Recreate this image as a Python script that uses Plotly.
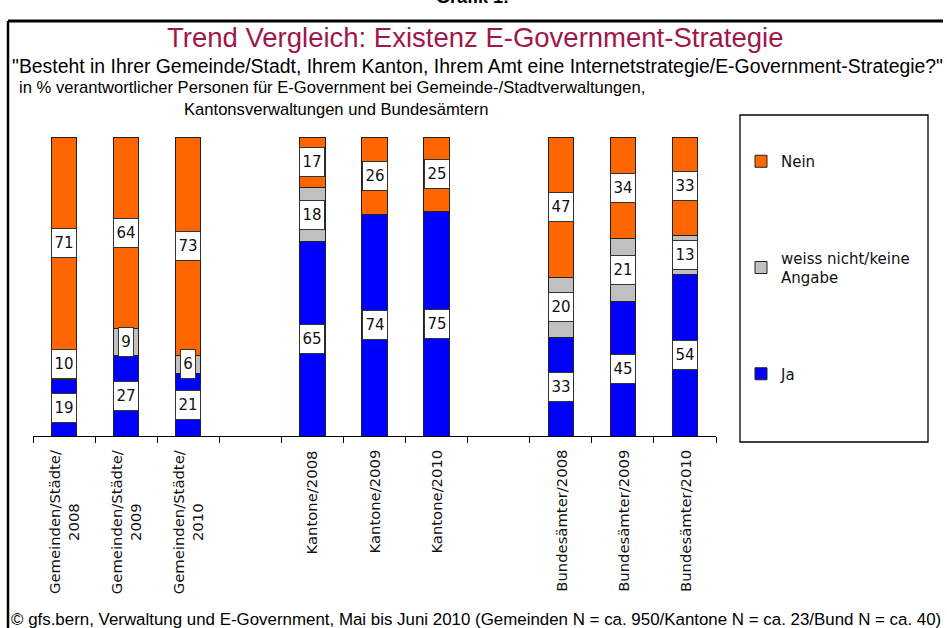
"""Stacked bar chart: trend comparison of e-government strategies."""

import plotly.graph_objects as go

categories = [
    "Gemeinden/Städte/<br>2008", "Gemeinden/Städte/<br>2009",
    "Gemeinden/Städte/<br>2010",
    "Kantone/2008", "Kantone/2009", "Kantone/2010",
    "Bundesämter/2008", "Bundesämter/2009", "Bundesämter/2010",
]
ja = [19, 27, 21, 65, 74, 75, 33, 45, 54]
weiss_nicht = [10, 9, 6, 18, 0, 0, 20, 21, 13]
nein = [71, 64, 73, 17, 26, 25, 47, 34, 33]

series = [
    ("Ja", ja, "#0000FF"),
    ("weiss nicht/keine<br>Angabe", weiss_nicht, "#C0C0C0"),
    ("Nein", nein, "#FF6600"),
]

# empty slots between the three groups of bars
axis_order = categories[:3] + [" "] + categories[3:6] + ["  "] + categories[6:]

W, H = 947, 628
NARROW = "Liberation Sans, Arial, sans-serif"
VERDANA = "DejaVu Sans, Verdana, sans-serif"


def px(x, y):
    """Pixel position -> paper coordinates (margins are zero)."""
    return x / W, 1 - y / H


fig = go.Figure()
for rank, (name, values, color) in enumerate(series):
    fig.add_trace(go.Bar(
        x=categories, y=values, name=name, legendgroup=name,
        legendrank=len(series) - rank,  # Nein on top, as in the stack
        marker=dict(color=color, line=dict(color="#222222", width=1)),
        hoverinfo="skip",
    ))

# white value boxes centred on each segment
annotations = []
base = [0] * len(categories)
for name, values, color in series:
    for cat, b, v in zip(categories, base, values):
        if v > 0:
            annotations.append(dict(
                x=cat, y=b + v / 2, xref="x", yref="y", text=str(v),
                showarrow=False, bgcolor="white", bordercolor="#333333",
                borderwidth=1, borderpad=0, width=24 if v >= 10 else 14,
                height=28, font=dict(family=VERDANA, size=15, color="#111111"),
            ))
    base = [b + v for b, v in zip(base, values)]

# rotated category labels under the axis
for cat in categories:
    annotations.append(dict(
        x=cat, y=px(0, 448)[1], xref="x", yref="paper", text=cat,
        textangle=-90, showarrow=False, align="center",
        xanchor="center", yanchor="top",
        font=dict(family=VERDANA, size=14.8, color="#111111"),
    ))

texts = [
    ("Grafik 1:", 472, -3, "center", 18, "black", True),
    ("Trend Vergleich: Existenz E-Government-Strategie", 475, 38,
     "center", 27.5, "#A0174A", False),
    ("\"Besteht in Ihrer Gemeinde/Stadt, Ihrem Kanton, Ihrem Amt eine "
     "Internetstrategie/E-Government-Strategie?\"", 10, 66, "left", 19.4,
     "black", False),
    ("in % verantwortlicher Personen für E-Government bei "
     "Gemeinde-/Stadtverwaltungen,", 17, 88, "left", 16.6, "black", False),
    ("Kantonsverwaltungen und Bundesämtern", 182, 109, "left", 16.6,
     "black", False),
    ("© gfs.bern, Verwaltung und E-Government, Mai bis Juni 2010 "
     "(Gemeinden N = ca. 950/Kantone N = ca. 23/Bund N = ca. 40)",
     9, 619, "left", 16.9, "black", False),
]
for text, x, y, anchor, size, color, bold in texts:
    xp, yp = px(x, y)
    annotations.append(dict(
        x=xp, y=yp, xref="paper", yref="paper", showarrow=False,
        text=f"<b>{text}</b>" if bold else text,
        xanchor=anchor, yanchor="middle",
        font=dict(family=NARROW, size=size, color=color),
    ))

# outer frame: top and left edges only, plus the legend box
tx0, ty = px(8, 21)
tx1, _ = px(943, 21)
_, by = px(8, 700)
lx0, ly0 = px(740, 115)
lx1, ly1 = px(928, 442)
shapes = [
    dict(type="line", xref="paper", yref="paper", x0=tx0, y0=ty, x1=tx1,
         y1=ty, line=dict(color="black", width=3)),
    dict(type="line", xref="paper", yref="paper", x0=tx0, y0=ty, x1=tx0,
         y1=by, line=dict(color="black", width=2.5)),
    dict(type="rect", xref="paper", yref="paper", x0=lx0, y0=ly0, x1=lx1,
         y1=ly1, line=dict(color="black", width=1.3)),
]

x_left, y_top = px(33, 137)
x_right, y_bottom = px(716, 436)
leg_x, leg_y = px(741, 145)
fig.update_layout(
    width=W, height=H,
    margin=dict(l=0, r=0, t=0, b=0),
    paper_bgcolor="white", plot_bgcolor="white",
    barmode="stack", bargap=0.59,
    xaxis=dict(
        type="category", categoryorder="array", categoryarray=axis_order,
        range=[-0.5, len(axis_order) - 0.5],
        domain=[x_left, x_right],
        showline=True, linecolor="black", linewidth=1,
        ticks="outside", tickson="boundaries", ticklen=6,
        tickcolor="black", showticklabels=False, showgrid=False,
    ),
    yaxis=dict(
        range=[0, 100], domain=[y_bottom, y_top],
        visible=False, showgrid=False,
    ),
    showlegend=True,
    legend=dict(
        x=leg_x, y=leg_y, xanchor="left", yanchor="top",
        traceorder="grouped", tracegroupgap=74, valign="middle",
        font=dict(family=VERDANA, size=15, color="#111111"),
        bgcolor="rgba(0,0,0,0)",
    ),
    annotations=annotations,
    shapes=shapes,
)

# drop the default body margin so the figure sits at the window's corner
fig.write_html(
    "out.html",
    config={"displayModeBar": False},
    post_script="document.body.style.margin = '0';",
)
